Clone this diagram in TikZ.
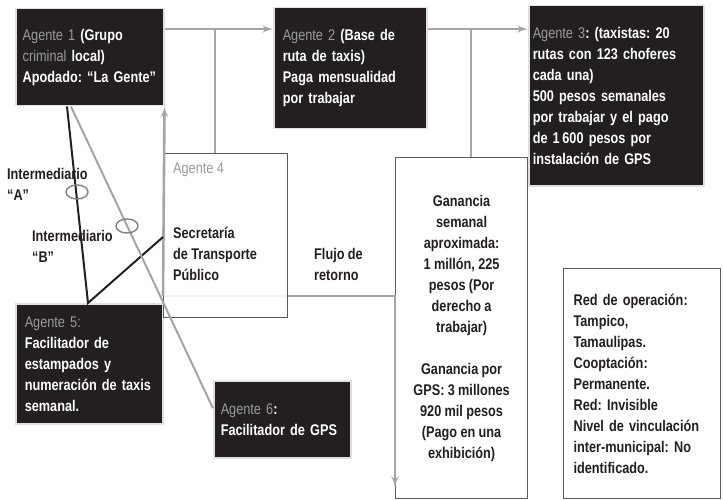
\documentclass[tikz,border=0pt]{standalone}
\usepackage{fontspec}
\setmainfont{Liberation Sans}[FakeStretch=0.82]
\usepackage{tikz}
\usetikzlibrary{arrows}
\usetikzlibrary{positioning}
\definecolor{boxblack}{HTML}{231F20}
\definecolor{agentgray}{HTML}{9A9A9A}
\definecolor{flowgray}{HTML}{A3A5A8}
\definecolor{edgegray}{HTML}{5A5B5D}
\newcommand{\agent}[1]{{\mdseries\color{agentgray}#1}}
\newcommand{\boxtext}{\fontsize{15.5pt}{21pt}\selectfont\bfseries\frenchspacing\spaceskip=3.3pt plus 1pt minus 0.5pt\relax}
\tikzset{
  agentbox/.style={fill=boxblack, draw=black!12, line width=1.5pt, text=white, font=\boxtext,
    anchor=north west, align=left, inner ysep=0pt},
  infobox/.style={fill=white, draw=edgegray, line width=1.2pt, text=boxblack, font=\boxtext,
    anchor=north west},
  lbl/.style={text=boxblack, font=\boxtext, anchor=north west, align=left, inner sep=0pt},
  flow/.style={draw=flowgray, line width=2.6pt, -latex'},
  flowline/.style={draw=flowgray, line width=2.6pt},
  link/.style={draw=boxblack, line width=2pt},
  gpsline/.style={draw=flowgray, line width=2pt},
  ring/.style={draw=gray, line width=1.4pt}
}

\begin{document}
\begin{tikzpicture}[x=1pt, y=-1pt]
    \useasboundingbox (0,0) rectangle (723,500);
    \node[infobox, minimum width=132pt, minimum height=341pt, align=center] (gan) at (395,157)
      {Ganancia\\semanal\\aproximada:\\1 millón, 225\\pesos (Por\\derecho a\\trabajar)\\[21pt]Ganancia por\\GPS: 3 millones\\920 mil pesos\\(Pago en una\\exhibición)};
    \node[infobox, minimum width=157pt, minimum height=230pt, text width=137pt, inner xsep=10pt, align=left] (red) at (563,268)
      {Red de operación:\\Tampico,\\Tamaulipas.\\Cooptación:\\Permanente.\\Red: Invisible\\Nivel de vinculación\\inter-municipal: No\\identificado.};
    \node[agentbox, text width=134pt, inner xsep=7pt, minimum height=97pt] (ag1) at (15,8)
      {\agent{Agente 1} (Grupo\\\agent{criminal} local)\\Apodado: “La Gente”};
    \node[agentbox, text width=135pt, inner xsep=9pt, minimum height=121pt] (ag2) at (273,7)
      {\agent{Agente 2} (Base de\\ruta de taxis)\\Paga mensualidad\\por trabajar};
    \node[agentbox, text width=167pt, inner xsep=4pt, minimum height=180pt] (ag3) at (528,5)
      {\agent{Agente 3}: (taxistas: 20\\rutas con 123 choferes\\cada una)\\500 pesos semanales\\por trabajar y el pago\\de 1\,600 pesos por\\instalación de GPS};
    \node[agentbox, text width=129pt, inner xsep=9pt, minimum height=120pt] (ag5) at (15,303)
      {\agent{Agente 5:}\\Facilitador de\\estampados y\\numeración de taxis\\semanal.};
    \node[agentbox, text width=123pt, inner xsep=7pt, minimum height=77pt] (ag6) at (213,380)
      {\agent{Agente 6}:\\Facilitador de GPS};

    \coordinate (rail) at (0,29);
    \coordinate (j1) at (215,29);
    \coordinate (j2) at (471,29);
    \draw[flow] (ag1.east |- rail) -- (ag2.west |- rail);
    \draw[flow] (ag2.east |- rail) -- (ag3.west |- rail);
    \draw[flowline] (j2) -- (j2 |- gan.north);

    \coordinate (ret) at (163,296);
    \coordinate (retend) at (395,487);
    \draw[flow] (ret) -| (retend);
    \node[infobox, minimum width=124pt, minimum height=164pt, fill opacity=0.85] (ag4) at (163,153) {};
    \draw[flowline] (j1) -- (j1 |- ag4.north);
    \node[lbl] (ag4head) at (173,163) {\agent{Agente 4}};
    \node[lbl] (ag4name) at (173,227) {Secretaría\\de Transporte\\Público};
    \node[lbl] (retlbl) at (314,248) {Flujo de\\retorno};
    \draw[flow] (ret) -- (ag1.south east);

    \node[lbl] (intA) at (7,168) {Intermediario\\“A”};
    \node[lbl] (intB) at (32,230) {Intermediario\\“B”};
    \coordinate (ia1) at ([xshift=52pt]ag1.south west);
    \coordinate (ia5) at ([xshift=73pt]ag5.north west);
    \coordinate (ia4) at ([yshift=-84pt]ag4.north west);
    \draw[link] (ia1) -- (ia5) -- (ia4);
    \coordinate (gps1) at ([xshift=56pt]ag1.south west);
    \coordinate (gps6) at ([yshift=11pt]ag6.west);
    \draw[gpsline] (gps1) -- (gps6);
    \foreach \cx/\cy in {77/192, 127/226}{
      \draw[ring] (\cx,\cy) ellipse (11pt and 7pt);
    }
\end{tikzpicture}
\end{document}
